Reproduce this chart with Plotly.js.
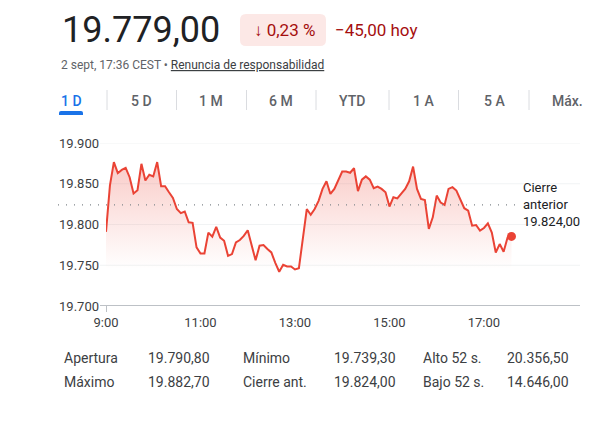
<!DOCTYPE html>
<html>
<head>
<meta charset="utf-8">
<script src="https://cdn.plot.ly/plotly-3.0.1.min.js"></script>
<style>html,body{margin:0;padding:0;background:#fff;}#chart{width:591px;height:428px;}</style>
</head>
<body>
<div id="chart"></div>
<script>
// ---- data ----
var day = "2024-09-02";
var times = [
"09:00","09:05","09:10","09:15","09:20","09:25","09:30","09:35","09:40","09:45","09:50","09:55",
"10:00","10:05","10:10","10:15","10:20","10:25","10:30","10:35","10:40","10:45","10:50","10:55",
"11:00","11:05","11:10","11:15","11:20","11:25","11:30","11:35","11:40","11:45","11:50","11:55",
"12:00","12:05","12:10","12:15","12:20","12:25","12:30","12:35","12:40","12:45","12:50","12:55",
"13:00","13:05","13:10","13:15","13:20","13:25","13:30","13:35","13:40","13:45","13:50","13:55",
"14:00","14:05","14:10","14:15","14:20","14:25","14:30","14:35","14:40","14:45","14:50","14:55",
"15:00","15:05","15:10","15:15","15:20","15:25","15:30","15:35","15:40","15:45","15:50","15:55",
"16:00","16:05","16:10","16:15","16:20","16:25","16:30","16:35","16:40","16:45","16:50","16:55",
"17:00","17:05","17:10","17:15","17:20","17:25","17:30","17:35"];
var values = [
19791, 19848, 19876.6, 19863, 19867, 19869.6, 19858, 19838, 19842, 19874.5,
19854, 19861, 19859, 19876.6, 19847, 19847, 19839.6, 19832.6, 19819, 19814,
19816, 19802.7, 19802, 19772, 19764.5, 19764.5, 19790, 19785, 19797, 19784,
19780, 19761.6, 19763.7, 19778, 19781, 19786, 19793, 19776, 19756, 19774,
19774.7, 19770, 19765.7, 19753, 19742, 19750.5, 19748.5, 19748.5, 19744.8, 19746.4,
19784, 19819, 19812, 19819, 19829, 19843.7, 19853, 19837.5, 19843.7, 19855,
19865, 19865, 19863.5, 19869, 19841, 19855, 19859, 19855, 19844.6, 19846.6,
19843.7, 19839.6, 19822, 19833.5, 19832, 19838, 19843.7, 19853, 19871, 19843.7,
19831.4, 19830, 19794.5, 19808.8, 19835.5, 19827, 19824, 19843.7, 19845.8, 19841.7,
19831.4, 19820, 19817, 19798.6, 19799.4, 19792.4, 19795.7, 19801.4, 19790, 19765.7,
19776, 19766.5, 19784, 19785.4];
var prevClose = 19824;
var yTicks = [19700, 19750, 19800, 19850, 19900];
var yTickText = ["19.700", "19.750", "19.800", "19.850", "19.900"];
var xTicks = ["09:00", "11:00", "13:00", "15:00", "17:00"];
var xTickText = ["9:00", "11:00", "13:00", "15:00", "17:00"];
var priceText = "19.779,00";
var changePct = "↓ 0,23 %";
var changeAbs = "−45,00 hoy";
var stampText = "2 sept, 17:36 CEST • ";
var disclaimer = "Renuncia de responsabilidad";
var tabs = ["1 D", "5 D", "1 M", "6 M", "YTD", "1 A", "5 A", "Máx."];
var prevCloseLabel = "Cierre<br>anterior<br>19.824,00";
var statLabels1 = ["Apertura", "Mínimo", "Alto 52 s."];
var statValues1 = ["19.790,80", "19.739,30", "20.356,50"];
var statLabels2 = ["Máximo", "Cierre ant.", "Bajo 52 s."];
var statValues2 = ["19.882,70", "19.824,00", "14.646,00"];

// ---- geometry helpers (pixel -> paper) ----
var W = 591, H = 428, L = 106, R = 580, T = 143, B = 306;
function px(x) { return (x - L) / (R - L); }
function py(y) { return (B - y) / (B - T); }
function roundRect(x0, y0, x1, y1, r, topOnly) {
  var p = "M" + px(x0 + r) + "," + py(y0) +
    " L" + px(x1 - r) + "," + py(y0) +
    " Q" + px(x1) + "," + py(y0) + " " + px(x1) + "," + py(y0 + r);
  if (topOnly) {
    p += " L" + px(x1) + "," + py(y1) + " L" + px(x0) + "," + py(y1);
  } else {
    p += " L" + px(x1) + "," + py(y1 - r) +
      " Q" + px(x1) + "," + py(y1) + " " + px(x1 - r) + "," + py(y1) +
      " L" + px(x0 + r) + "," + py(y1) +
      " Q" + px(x0) + "," + py(y1) + " " + px(x0) + "," + py(y1 - r);
  }
  p += " L" + px(x0) + "," + py(y0 + r) +
    " Q" + px(x0) + "," + py(y0) + " " + px(x0 + r) + "," + py(y0) + " Z";
  return p;
}

var FONT = "Roboto, 'Noto Sans', Arial, sans-serif";
var xs = times.map(function (t) { return day + " " + t; });

var traces = [
  {
    x: xs, y: values, type: "scatter", mode: "lines",
    line: { color: "#ea4335", width: 2 },
    fill: "tozeroy",
    fillgradient: {
      type: "vertical", start: 19745, stop: 19880,
      colorscale: [[0, "rgba(234,67,53,0)"], [1, "rgba(234,67,53,0.28)"]]
    },
    hoverinfo: "skip"
  },
  {
    x: [xs[xs.length - 1]], y: [values[values.length - 1]],
    type: "scatter", mode: "markers",
    marker: { color: "#ea4335", size: 9 }, hoverinfo: "skip"
  }
];

var shapes = [];
yTicks.slice(1).forEach(function (v) {
  shapes.push({ type: "line", xref: "paper", yref: "y", x0: px(100), x1: 1, y0: v, y1: v,
    line: { color: "#f1f3f4", width: 1 }, layer: "below" });
});
shapes.push({ type: "line", xref: "paper", yref: "y", x0: px(100), x1: 1, y0: yTicks[0], y1: yTicks[0],
  line: { color: "#bdc1c6", width: 2 } });
shapes.push({ type: "line", xref: "x", yref: "paper", x0: day + " " + xTicks[0], x1: day + " " + xTicks[0],
  y0: py(B), y1: py(B + 6), line: { color: "#bdc1c6", width: 2 } });
shapes.push({ type: "line", xref: "paper", yref: "y", x0: px(58), x1: px(518), y0: prevClose, y1: prevClose,
  line: { color: "#80868b", width: 1.2, dash: "1px,7px" } });
shapes.push({ type: "path", xref: "paper", yref: "paper", path: roundRect(240, 14, 326, 46, 6, false),
  fillcolor: "#fce8e6", line: { width: 0 } });
[107, 176.5, 246.5, 316, 389, 458.5, 529].forEach(function (x) {
  shapes.push({ type: "line", xref: "paper", yref: "paper", x0: px(x), x1: px(x), y0: py(90), y1: py(110),
    line: { color: "#dadce0", width: 1 } });
});
shapes.push({ type: "path", xref: "paper", yref: "paper", path: roundRect(59, 111, 83, 115, 2, true),
  fillcolor: "#1a73e8", line: { width: 0 } });

var ann = [];
function txt(t, x, y, size, color, anchor, extra) {
  var a = { text: t, xref: "paper", yref: "paper", x: px(x), y: py(y), xanchor: anchor || "left",
    yanchor: "middle", showarrow: false, font: { family: FONT, size: size, color: color } };
  if (extra) for (var k in extra) a[k] = extra[k];
  ann.push(a);
}
txt(priceText, 60, 30, 36, "#202124", "left");
txt(changePct, 284, 30, 17, "#a50e0e", "center");
txt(changeAbs, 333, 30, 17, "#a50e0e", "left");
txt(stampText + "<span style='color:#3c4043'><u>" + disclaimer + "</u></span>", 59, 65, 12, "#5f6368", "left");
var tabX = [71, 141, 211, 281, 352, 423, 494, 567];
tabs.forEach(function (t, i) {
  ann.push({ text: t, xref: "paper", yref: "paper", x: px(tabX[i]), y: py(101), xanchor: "center", yanchor: "middle",
    showarrow: false, font: { family: FONT, size: 14, weight: 500, color: i === 0 ? "#1a73e8" : "#5f6368" } });
});
txt(prevCloseLabel, 521, 204, 13, "#202124", "left", { align: "left" });
var colL = [62, 241, 421], colV = [146, 332, 505];
for (var i = 0; i < 3; i++) {
  txt(statLabels1[i], colL[i], 358, 14, "#3c4043", "left");
  txt(statValues1[i], colV[i], 358, 14, "#3c4043", "left");
  txt(statLabels2[i], colL[i], 382, 14, "#3c4043", "left");
  txt(statValues2[i], colV[i], 382, 14, "#3c4043", "left");
}

var layout = {
  width: W, height: H,
  margin: { l: L, r: W - R, t: T, b: H - B, pad: 0 },
  paper_bgcolor: "#fff", plot_bgcolor: "#fff",
  showlegend: false,
  font: { family: FONT, size: 13, color: "#3c4043" },
  xaxis: {
    type: "date",
    range: [day + " 09:00", day + " 19:02"],
    tickvals: xTicks.map(function (t) { return day + " " + t; }),
    ticktext: xTickText,
    showgrid: false, zeroline: false, showline: false,
    ticks: "outside", ticklen: 4, tickcolor: "rgba(0,0,0,0)",
    tickfont: { family: FONT, size: 13, color: "#3c4043" },
    fixedrange: true
  },
  yaxis: {
    range: [yTicks[0], yTicks[yTicks.length - 1]],
    tickvals: yTicks, ticktext: yTickText,
    showgrid: false, zeroline: false, showline: false, ticks: "",
    ticklabelstandoff: 6,
    tickfont: { family: FONT, size: 13, color: "#3c4043" },
    fixedrange: true
  },
  shapes: shapes,
  annotations: ann
};

Plotly.newPlot("chart", traces, layout, { displayModeBar: false, staticPlot: true });
</script>
</body>
</html>
